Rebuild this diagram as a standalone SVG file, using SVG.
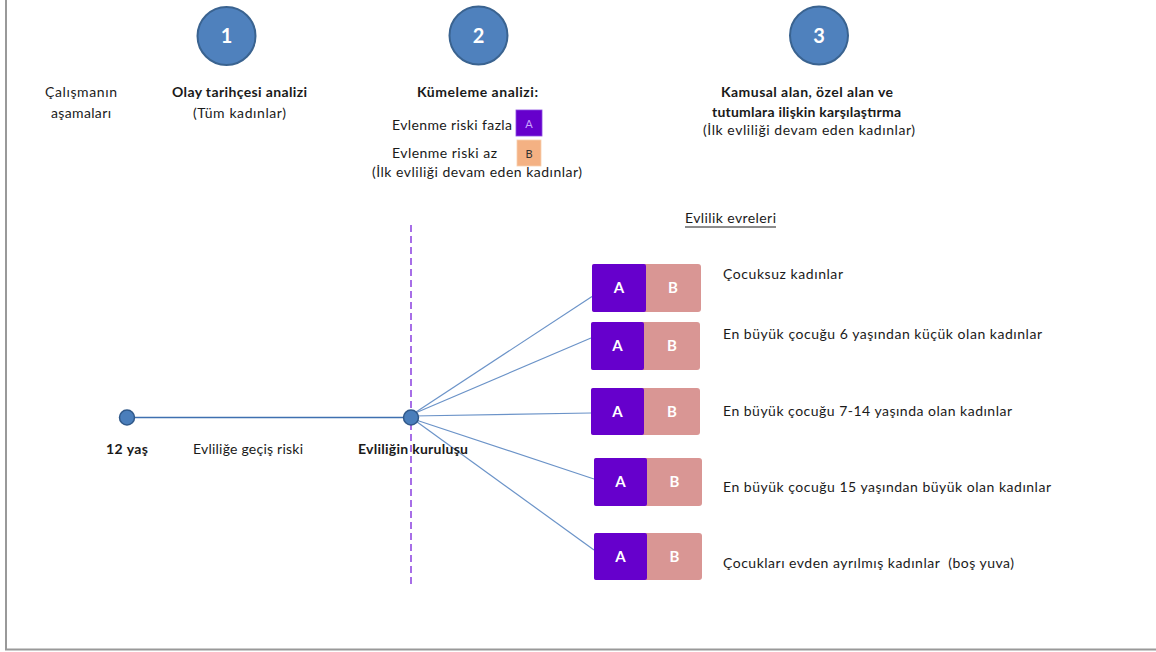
<svg xmlns="http://www.w3.org/2000/svg" width="1156" height="652" viewBox="0 0 1156 652">
<style>
text{font-family:Lato,"Liberation Sans",sans-serif;font-size:14px;fill:#1a1a1a}
.b{font-weight:bold}
.num{font-size:20px;font-weight:bold;fill:#fff;text-anchor:middle}
.step{fill:#4f81bd;stroke:#3a6390;stroke-width:2}
.dot{fill:#4a7ebb;stroke:#30598a;stroke-width:1.5}
.ca{fill:#6600cc}
.cb{fill:#d99694}
.bl{font-size:15px;font-weight:bold;fill:#fff;text-anchor:middle}
.fan{stroke:#6b93c8;stroke-width:1.2;fill:none}
</style>
<rect width="1156" height="652" fill="#fff"/>
<g id="frame" fill="none" stroke="#999" stroke-width="2">
<path d="M6 0 V649.5 H1156"/>
</g>
<g id="connectors">
<line x1="127" y1="417.5" x2="411" y2="417.5" stroke="#3e70b0" stroke-width="1.5"/>
<line class="fan" x1="413" y1="414" x2="592" y2="296.5"/>
<line class="fan" x1="413" y1="414" x2="591" y2="338"/>
<line class="fan" x1="413" y1="416" x2="591" y2="413"/>
<line class="fan" x1="413" y1="419" x2="594" y2="479"/>
<line class="fan" x1="413" y1="419" x2="594" y2="550"/>
<line x1="411" y1="225" x2="411" y2="587" stroke="#8b3fe0" stroke-width="1.5" stroke-dasharray="7 4"/>
</g>
<g id="step1">
<circle class="step" cx="226.5" cy="36" r="29"/>
<text class="num" x="226.5" y="43">1</text>
</g>
<g id="step2">
<circle class="step" cx="478.5" cy="35.5" r="29"/>
<text class="num" x="478.5" y="43">2</text>
</g>
<g id="step3">
<circle class="step" cx="819" cy="35.5" r="29"/>
<text class="num" x="819" y="43">3</text>
</g>
<g id="stages-label">
<text x="45" y="97" textLength="72">Çalışmanın</text>
<text x="51" y="118" textLength="60">aşamaları</text>
</g>
<g id="step1-label">
<text class="b" x="172" y="97" textLength="135">Olay tarihçesi analizi</text>
<text x="193" y="118" textLength="93">(Tüm kadınlar)</text>
</g>
<g id="step2-label">
<text class="b" x="417" y="97" textLength="121">Kümeleme analizi:</text>
<text x="392" y="130" textLength="120">Evlenme riski fazla</text>
<text x="392" y="158" textLength="105">Evlenme riski az</text>
<text x="372" y="177" textLength="210">(İlk evliliği devam eden kadınlar)</text>
</g>
<g id="legend-A">
<rect x="516" y="110" width="26" height="26" fill="#6600cc" stroke="#8a4ce0" stroke-width="0.8"/>
<text x="529" y="127.5" text-anchor="middle" style="font-size:11px;fill:#c9a6ff">A</text>
</g>
<g id="legend-B">
<rect x="517" y="140" width="24" height="26" fill="#f4b183" stroke="#f8cfb0" stroke-width="0.8"/>
<text x="529" y="157.5" text-anchor="middle" style="font-size:11px;fill:#333">B</text>
</g>
<g id="step3-label">
<text class="b" x="721" y="97" textLength="172">Kamusal alan, özel alan ve</text>
<text class="b" x="712" y="117" textLength="189">tutumlara ilişkin karşılaştırma</text>
<text x="703" y="135" textLength="212">(İlk evliliği devam eden kadınlar)</text>
</g>
<g id="phases-title">
<text x="685" y="223" textLength="91">Evlilik evreleri</text>
<line x1="685" y1="227" x2="776" y2="227" stroke="#1a1a1a" stroke-width="1"/>
</g>
<g id="node-12">
<circle class="dot" cx="127" cy="417.5" r="7.5"/>
<text class="b" x="106" y="454" textLength="42">12 yaş</text>
</g>
<g id="transition-label">
<text x="193" y="454" textLength="110">Evliliğe geçiş riski</text>
</g>
<g id="node-marriage">
<circle class="dot" cx="411" cy="417.5" r="7.5"/>
<text class="b" x="358" y="454" textLength="110">Evliliğin kuruluşu</text>
</g>
<g id="phase1">
<rect class="cb" x="592" y="264" width="109" height="48" rx="3"/>
<rect class="ca" x="592" y="264" width="54" height="48" rx="2"/>
<text class="bl" x="619" y="293">A</text>
<text class="bl" x="673" y="293">B</text>
<text x="723" y="279" textLength="120">Çocuksuz kadınlar</text>
</g>
<g id="phase2">
<rect class="cb" x="591" y="322" width="109" height="48" rx="3"/>
<rect class="ca" x="591" y="322" width="53" height="48" rx="2"/>
<text class="bl" x="617.5" y="351">A</text>
<text class="bl" x="672" y="351">B</text>
<text x="723" y="339" textLength="319">En büyük çocuğu 6 yaşından küçük olan kadınlar</text>
</g>
<g id="phase3">
<rect class="cb" x="591" y="388" width="109" height="47" rx="3"/>
<rect class="ca" x="591" y="388" width="53" height="47" rx="2"/>
<text class="bl" x="617.5" y="416.5">A</text>
<text class="bl" x="672" y="416.5">B</text>
<text x="723" y="416" textLength="289">En büyük çocuğu 7-14 yaşında olan kadınlar</text>
</g>
<g id="phase4">
<rect class="cb" x="594" y="458" width="108" height="48" rx="3"/>
<rect class="ca" x="594" y="458" width="53" height="48" rx="2"/>
<text class="bl" x="620.5" y="487">A</text>
<text class="bl" x="674.5" y="487">B</text>
<text x="723" y="492" textLength="328">En büyük çocuğu 15 yaşından büyük olan kadınlar</text>
</g>
<g id="phase5">
<rect class="cb" x="594" y="533" width="108" height="47" rx="3"/>
<rect class="ca" x="594" y="533" width="53" height="47" rx="2"/>
<text class="bl" x="620.5" y="561.5">A</text>
<text class="bl" x="674.5" y="561.5">B</text>
<text x="723" y="568" textLength="291" xml:space="preserve">Çocukları evden ayrılmış kadınlar  (boş yuva)</text>
</g>
</svg>
